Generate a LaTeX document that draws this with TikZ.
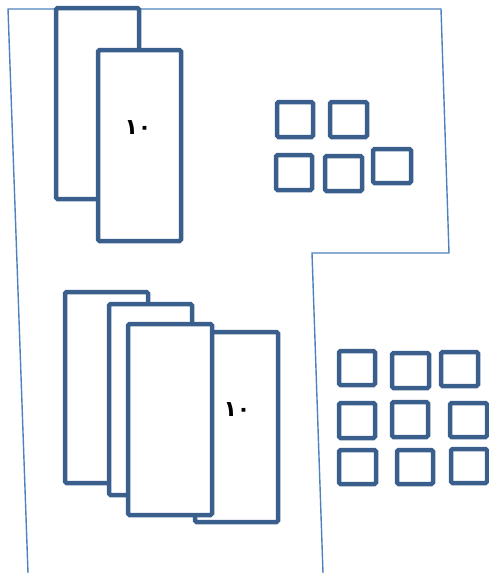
\documentclass[tikz,border=0pt]{standalone}
\usepackage{fontspec}
\newfontfamily\arabicfont[Script=Arabic]{DejaVu Sans}
\definecolor{boxblue}{RGB}{58,95,140}
\definecolor{lineblue}{RGB}{79,129,189}
\begin{document}
\begin{tikzpicture}[x=1pt,y=-1pt,
  card/.style={draw=boxblue,line width=4.5pt,rounded corners=1.5pt,fill=white},
  tile/.style={draw=boxblue,line width=4.5pt,rounded corners=1.5pt},
  outline/.style={draw=lineblue,line width=1.4pt},
  digits/.style={font=\arabicfont\bfseries\fontsize{22}{26}\selectfont,inner sep=0pt}]
\useasboundingbox (0,0) rectangle (489,573);
% outline
\draw[outline] (28,573) -- (8,9) -- (441,9) -- (449,253) -- (312,253) -- (323,573);
% top pair
\draw[card] (56,8) rectangle (139,199);
\draw[card] (98,50) rectangle (181,241);
\node[digits] (tb) at (138,128) {١٠};
% bottom group
\draw[card] (65,292) rectangle (148,483);
\draw[card] (109,304) rectangle (192,495);
\draw[card] (195,332) rectangle (278,522);
\draw[card] (128,324) rectangle (212,515);
\node[digits] (tf) at (237,410) {١٠};
% top squares
\draw[tile] (277,102) rectangle (313,137);
\draw[tile] (330,102) rectangle (367,137);
\draw[tile] (276,155) rectangle (312,190);
\draw[tile] (325,156) rectangle (362,191);
\draw[tile] (373,149) rectangle (411,183);
% bottom squares
\draw[tile] (339,351) rectangle (375,385);
\draw[tile] (392,353) rectangle (429,388);
\draw[tile] (441,352) rectangle (478,386);
\draw[tile] (339,403) rectangle (375,438);
\draw[tile] (392,402) rectangle (428,437);
\draw[tile] (450,403) rectangle (487,437);
\draw[tile] (339,450) rectangle (376,484);
\draw[tile] (397,450) rectangle (433,484);
\draw[tile] (451,449) rectangle (487,483);
\end{tikzpicture}
\end{document}
